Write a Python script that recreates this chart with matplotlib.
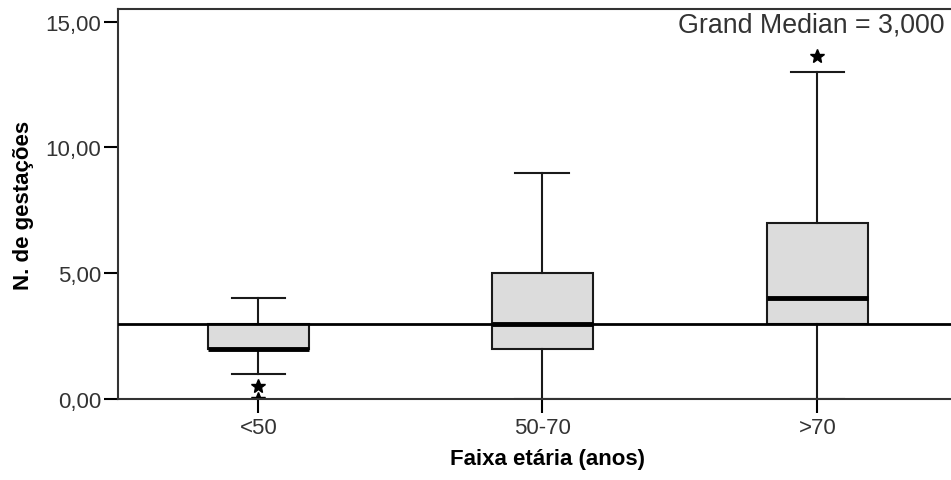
import matplotlib
matplotlib.use("Agg")
import matplotlib.pyplot as plt

plt.rcParams['font.family'] = ['Liberation Sans', 'DejaVu Sans']

categories = ["<50", "50-70", ">70"]
whislo = [1, 0, 0]
q1 = [2, 2, 3]
med = [2, 3, 4]
q3 = [3, 5, 7]
whishi = [4, 9, 13]
fliers = [[0.5, 0.0], [], [13.65]]
grand_median = 3.0
yticks = [0, 5, 10, 15]
ytick_labels = ["0,00", "5,00", "10,00", "15,00"]

fig = plt.figure(figsize=(9.51, 4.81), dpi=100)
ax = fig.add_axes([118/951, 81/481, 1 - 118/951 + 0.01, (400-10)/481])

stats = []
for i, c in enumerate(categories):
    stats.append(dict(label=c, whislo=whislo[i], q1=q1[i], med=med[i], q3=q3[i],
                      whishi=whishi[i], fliers=fliers[i]))

pos = [0, 1.01, 1.99]
ax.bxp(stats, positions=pos, widths=0.36, patch_artist=True,
       boxprops=dict(facecolor="#dcdcdc", edgecolor="#1a1a1a", linewidth=1.5),
       medianprops=dict(color="black", linewidth=3.5, solid_capstyle='butt'),
       whiskerprops=dict(color="#1a1a1a", linewidth=1.5),
       capprops=dict(color="#1a1a1a", linewidth=1.5),
       capwidths=0.19,
       flierprops=dict(marker="*", markersize=10, markerfacecolor="black",
                       markeredgecolor="black", linestyle="none"))

ax.axhline(grand_median, color="black", linewidth=2, zorder=5)

ax.set_xlim(-0.5, 2.5)
ax.set_ylim(0, 15.5)
ax.set_yticks(yticks)
ax.set_yticklabels(ytick_labels, fontsize=16, color="#333333")
ax.set_xticks(pos)
ax.set_xticklabels(categories, fontsize=16, color="#333333")
ax.tick_params(axis='y', direction='out', length=10, width=1.5, pad=2)
ax.tick_params(axis='x', direction='out', length=10, width=1.5, pad=3)
for s in ax.spines.values():
    s.set_linewidth(1.5)
    s.set_color("#333333")
ax.spines['right'].set_visible(False)

ax.set_ylabel("N. de gestações", fontsize=16, fontweight="bold")
ax.yaxis.set_label_coords((35 - 118) / 833, 0.5)
ax.set_xlabel("Faixa etária (anos)", fontsize=16, fontweight="bold")
ax.xaxis.set_label_coords(0.51, -0.125)
fig.text(944/951, 1 - 12/481, "Grand Median = 3,000",
         ha="right", va="top", fontsize=19.3, color="#333333")

fig.savefig("out.png", dpi=100)
